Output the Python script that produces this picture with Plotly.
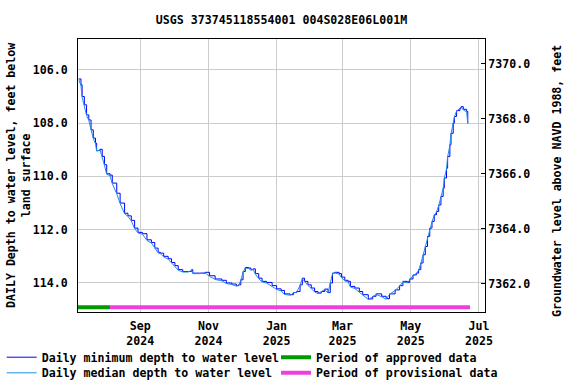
import plotly.graph_objects as go

# ---------------- data ----------------
dates = [
    "2024-07-08", "2024-07-10", "2024-07-11", "2024-07-13", "2024-07-15", "2024-07-17",
    "2024-07-19", "2024-07-21", "2024-07-23", "2024-07-24", "2024-07-27", "2024-07-29",
    "2024-07-31", "2024-08-02", "2024-08-05", "2024-08-07", "2024-08-11", "2024-08-14",
    "2024-08-18", "2024-08-21", "2024-08-24", "2024-08-27", "2024-08-30", "2024-09-03",
    "2024-09-07", "2024-09-11", "2024-09-14", "2024-09-17", "2024-09-19", "2024-09-22",
    "2024-09-26", "2024-09-29", "2024-10-02", "2024-10-05", "2024-10-09", "2024-10-14",
    "2024-10-17", "2024-10-18", "2024-10-24", "2024-10-29", "2024-11-02", "2024-11-07",
    "2024-11-13", "2024-11-17", "2024-11-22", "2024-11-26", "2024-11-28", "2024-11-30",
    "2024-12-02", "2024-12-04", "2024-12-07", "2024-12-09", "2024-12-11", "2024-12-13",
    "2024-12-16", "2024-12-19", "2024-12-23", "2024-12-28", "2025-01-01", "2025-01-05",
    "2025-01-08", "2025-01-13", "2025-01-16", "2025-01-19", "2025-01-22", "2025-01-24",
    "2025-01-26", "2025-01-29", "2025-02-01", "2025-02-04", "2025-02-07", "2025-02-10",
    "2025-02-13", "2025-02-16", "2025-02-18", "2025-02-20", "2025-02-22", "2025-02-26",
    "2025-02-28", "2025-03-03", "2025-03-06", "2025-03-08", "2025-03-12", "2025-03-16",
    "2025-03-19", "2025-03-24", "2025-03-28", "2025-03-31", "2025-04-05", "2025-04-09",
    "2025-04-12", "2025-04-17", "2025-04-21", "2025-04-24", "2025-04-28", "2025-04-30",
    "2025-05-03", "2025-05-06", "2025-05-08", "2025-05-10", "2025-05-12", "2025-05-14",
    "2025-05-16", "2025-05-18", "2025-05-20", "2025-05-22", "2025-05-24", "2025-05-26",
    "2025-05-28", "2025-05-30", "2025-05-31", "2025-06-02", "2025-06-03", "2025-06-05",
    "2025-06-06", "2025-06-08", "2025-06-09", "2025-06-11", "2025-06-14", "2025-06-15",
    "2025-06-17", "2025-06-20", "2025-06-21",
]

min_depth = [
    106.34, 106.56, 107.00, 107.31, 107.69, 107.88,
    108.25, 108.56, 108.75, 109.03, 108.98, 109.25,
    109.56, 109.90, 109.95, 110.25, 110.63, 111.00,
    111.38, 111.48, 111.65, 111.94, 112.10, 112.15,
    112.38, 112.48, 112.69, 112.85, 112.88, 113.00,
    113.09, 113.23, 113.35, 113.50, 113.57, 113.57,
    113.50, 113.63, 113.63, 113.60, 113.73, 113.85,
    113.90, 114.00, 114.04, 114.10, 114.07, 113.88,
    113.57, 113.42, 113.44, 113.50, 113.47, 113.65,
    113.82, 113.94, 113.98, 114.10, 114.22, 114.28,
    114.41, 114.44, 114.36, 114.32, 114.07, 113.82,
    113.94, 114.07, 114.19, 114.32, 114.38, 114.32,
    114.23, 114.36, 114.00, 113.63, 113.60, 113.65,
    113.78, 113.90, 113.94, 114.13, 114.19, 114.32,
    114.44, 114.60, 114.50, 114.41, 114.50, 114.59,
    114.41, 114.26, 114.10, 113.94, 113.98, 113.85,
    113.70, 113.63, 113.50, 113.25, 112.94, 112.63,
    112.25, 111.94, 111.69, 111.44, 111.32, 111.07,
    110.75, 110.44, 110.06, 109.69, 109.25, 108.81,
    108.38, 108.00, 107.75, 107.53, 107.44, 107.38,
    107.48, 107.56, 108.00,
]

median_depth = [
    106.36, 106.60, 107.02, 107.34, 107.71, 107.90,
    108.27, 108.58, 108.77, 109.05, 109.00, 109.27,
    109.58, 109.92, 109.97, 110.27, 110.65, 111.02,
    111.40, 111.50, 111.67, 111.96, 112.12, 112.17,
    112.40, 112.50, 112.71, 112.87, 112.90, 113.02,
    113.11, 113.25, 113.37, 113.52, 113.59, 113.59,
    113.52, 113.65, 113.65, 113.62, 113.75, 113.87,
    113.92, 114.02, 114.06, 114.12, 114.09, 113.90,
    113.59, 113.44, 113.46, 113.52, 113.49, 113.67,
    113.84, 113.96, 114.00, 114.12, 114.24, 114.30,
    114.43, 114.46, 114.38, 114.34, 114.09, 113.84,
    113.96, 114.09, 114.21, 114.34, 114.40, 114.34,
    114.25, 114.38, 114.02, 113.65, 113.62, 113.67,
    113.80, 113.92, 113.96, 114.15, 114.21, 114.34,
    114.46, 114.62, 114.52, 114.43, 114.52, 114.61,
    114.43, 114.28, 114.12, 113.96, 114.00, 113.87,
    113.72, 113.65, 113.52, 113.27, 112.96, 112.65,
    112.27, 111.96, 111.71, 111.46, 111.34, 111.09,
    110.77, 110.46, 110.08, 109.71, 109.27, 108.83,
    108.40, 108.02, 107.77, 107.55, 107.46, 107.40,
    107.50, 107.58, 108.02,
]

approved_period = ["2024-07-07", "2024-08-05"]
provisional_period = ["2024-08-05", "2025-06-23"]

x_tick_vals = ["2024-09-01", "2024-11-01", "2025-01-01", "2025-03-01", "2025-05-01", "2025-07-01"]
x_tick_text = ["Sep<br>2024", "Nov<br>2024", "Jan<br>2025", "Mar<br>2025", "May<br>2025", "Jul<br>2025"]
left_ticks = [106, 108, 110, 112, 114]
right_ticks = [7362, 7364, 7366, 7368, 7370]

title_text = "USGS 373745118554001 004S028E06L001M"
left_title = "DAILY Depth to water level, feet below<br>land surface"
right_title = "Groundwater level above NAVD 1988, feet"

# ---------------- styling ----------------
W, H = 576, 384
ML, MR, MT, MB = 78, 91, 39, 72
PW, PH = W - ML - MR, H - MT - MB
FONT = dict(family="DejaVu Sans Mono", size=11.6, color="black", weight="bold")
BAR_LEVEL = 114.91
X_RANGE = ["2024-07-07 08:00", "2025-07-06 10:00"]
Y_RANGE = [115.09, 104.84]
Y2_RANGE = [7360.96, 7370.91]


def legend_box(left_px, top_px):
    return dict(x=left_px / W, y=1 - top_px / H, xref="container", yref="container",
                xanchor="left", yanchor="top", orientation="v", font=FONT,
                bgcolor="rgba(0,0,0,0)", borderwidth=0)


fig = go.Figure()
fig.add_trace(go.Scatter(
    x=dates, y=min_depth, mode="lines", name="Daily minimum depth to water level",
    line=dict(color="#0000ff", width=1, shape="hv"), legend="legend"))
fig.add_trace(go.Scatter(
    x=dates, y=median_depth, mode="lines", name="Daily median depth to water level",
    line=dict(color="#1a8fe3", width=1), legend="legend2"))
fig.add_trace(go.Scatter(
    x=approved_period, y=[BAR_LEVEL] * len(approved_period), mode="lines",
    name="Period of approved data", line=dict(color="#009900", width=4), legend="legend3"))
fig.add_trace(go.Scatter(
    x=provisional_period, y=[BAR_LEVEL] * len(provisional_period), mode="lines",
    name="Period of provisional data", line=dict(color="#ee3fdd", width=4), legend="legend4"))
fig.add_trace(go.Scatter(x=[], y=[], yaxis="y2", showlegend=False, hoverinfo="skip"))

fig.update_layout(
    width=W, height=H,
    margin=dict(l=ML, r=MR, t=MT, b=MB, autoexpand=False),
    paper_bgcolor="white", plot_bgcolor="white",
    font=FONT,
    showlegend=True,
    title=dict(text=title_text, x=0.5, xref="paper", xanchor="center",
               y=1 - 20 / H, yref="container", yanchor="middle", font=FONT),
    xaxis=dict(range=X_RANGE, type="date", tickvals=x_tick_vals, ticktext=x_tick_text,
               showgrid=True, gridcolor="#cccccc", gridwidth=1, ticks="",
               ticklabelstandoff=3,
               showline=True, linecolor="black", linewidth=1, mirror=True,
               zeroline=False, automargin=False, tickfont=FONT),
    yaxis=dict(range=Y_RANGE, tickvals=left_ticks, tickformat=".1f",
               showgrid=True, gridcolor="#cccccc", gridwidth=1, ticks="",
               ticklabelstandoff=7,
               showline=True, linecolor="black", linewidth=1, zeroline=False,
               automargin=False, tickfont=FONT),
    yaxis2=dict(range=Y2_RANGE, tickvals=right_ticks, tickformat=".1f",
                overlaying="y", side="right", showgrid=False, ticks="inside", ticklen=4,
                tickcolor="black", showline=True, linecolor="black", linewidth=1,
                zeroline=False, automargin=False, tickfont=FONT, ticklabelstandoff=0),
    legend=legend_box(1.7, 342.7),
    legend2=legend_box(1.7, 358.3),
    legend3=legend_box(276, 342.7),
    legend4=legend_box(276, 358.3),
    annotations=[
        dict(text=left_title, xref="paper", yref="paper", x=(18.5 - ML) / PW, y=0.5,
             xanchor="center", yanchor="middle", textangle=-90, showarrow=False, font=FONT),
        dict(text=right_title, xref="paper", yref="paper", x=(557 - ML) / PW,
             y=(H - MB - 181) / PH, xanchor="center", yanchor="middle", textangle=-90,
             showarrow=False, font=FONT),
    ],
)

fig.write_html("out.html", config={"displayModeBar": False},
               post_script="document.body.style.margin='0px';document.body.style.padding='0px';")
